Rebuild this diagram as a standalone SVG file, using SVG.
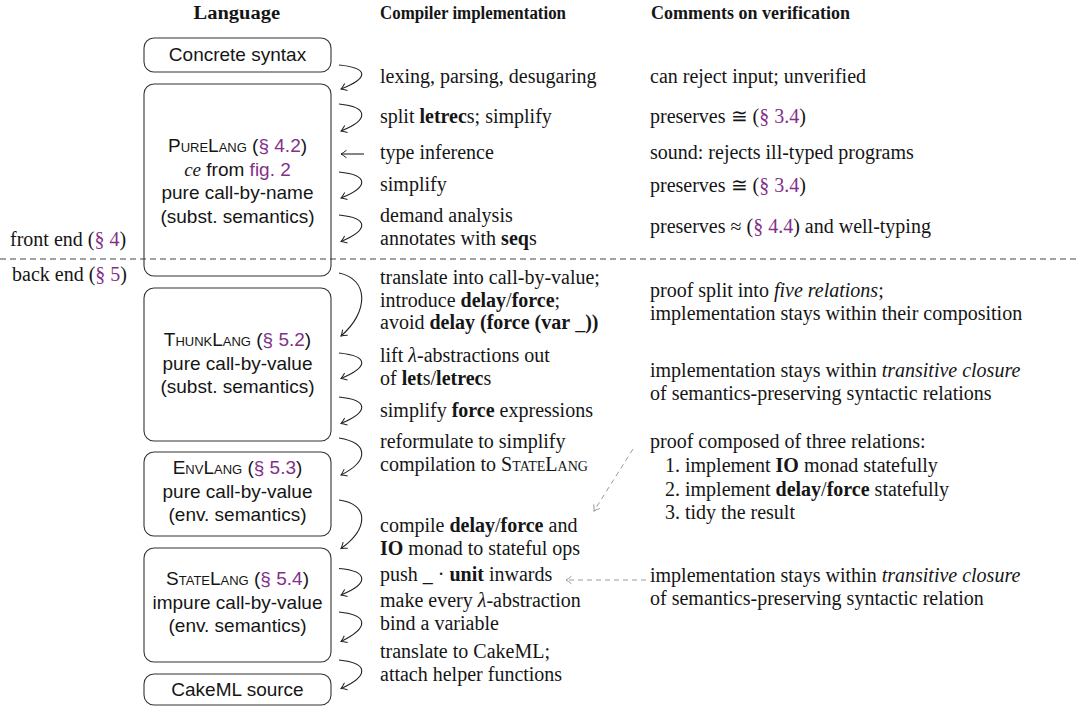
<svg xmlns="http://www.w3.org/2000/svg" width="1078" height="710" viewBox="0 0 1078 710">
<style>
.s{font-family:"Liberation Serif","Times New Roman",serif;font-size:20px;fill:#151515}
.h{font-family:"Liberation Serif","Times New Roman",serif;font-size:18px;font-weight:bold;fill:#151515}
.b{font-family:"Liberation Sans",Arial,sans-serif;font-size:19px;fill:#151515;text-anchor:middle}
.box{fill:none;stroke:#333;stroke-width:1.1}
.sc{font-variant:small-caps}
.bf{font-weight:bold}
.it{font-style:italic}
.ln{fill:#84308a}
.arr{fill:none;stroke:#222;stroke-width:1.1;marker-end:url(#ah)}
.garr{fill:none;stroke:#9a9a9a;stroke-width:1;stroke-dasharray:5 4;marker-end:url(#gah)}
.sep{stroke:#444;stroke-width:1;stroke-dasharray:6 4}
</style>
<defs>
<marker id="ah" viewBox="-7 -5 9 10" refX="0" refY="0" markerWidth="9" markerHeight="10" markerUnits="userSpaceOnUse" orient="auto">
<path d="M -5.5 -3.8 Q -2 -1 0 0 Q -2 1 -5.5 3.8" fill="none" stroke="#222" stroke-width="1"/>
</marker>
<marker id="gah" viewBox="-7 -5 9 10" refX="0" refY="0" markerWidth="9" markerHeight="10" markerUnits="userSpaceOnUse" orient="auto">
<path d="M -5.5 -3.8 Q -2 -1 0 0 Q -2 1 -5.5 3.8" fill="none" stroke="#9a9a9a" stroke-width="1"/>
</marker>
</defs>
<rect width="1078" height="710" fill="#fff"/>

<g id="headers">
<text class="h" x="193.5" y="19" textLength="86.5" lengthAdjust="spacingAndGlyphs">Language</text>
<text class="h" x="380" y="19" textLength="186" lengthAdjust="spacingAndGlyphs">Compiler implementation</text>
<text class="h" x="651" y="19" textLength="199" lengthAdjust="spacingAndGlyphs">Comments on verification</text>
</g>

<g id="separator">
<line class="sep" x1="0" y1="259" x2="1078" y2="259"/>
<text class="s" x="10" y="246">front end (<tspan class="ln">§ 4</tspan>)</text>
<text class="s" x="12" y="281">back end (<tspan class="ln">§ 5</tspan>)</text>
</g>

<g id="concrete">
<rect class="box" x="144" y="38" width="187" height="34" rx="10"/>
<text class="b" x="237.5" y="61">Concrete syntax</text>
</g>
<g id="purelang">
<rect class="box" x="144" y="84" width="187" height="192" rx="10"/>
<text class="b" x="237.5" y="152"><tspan class="sc">PureLang</tspan> (<tspan class="ln">§ 4.2</tspan>)</text>
<text class="b" x="237.5" y="175.5"><tspan class="it" font-family="Liberation Serif">ce</tspan> from <tspan class="ln">fig. 2</tspan></text>
<text class="b" x="237.5" y="199">pure call-by-name</text>
<text class="b" x="237.5" y="222.5">(subst. semantics)</text>
</g>
<g id="thunklang">
<rect class="box" x="144" y="288" width="187" height="153" rx="10"/>
<text class="b" x="237.5" y="346"><tspan class="sc">ThunkLang</tspan> (<tspan class="ln">§ 5.2</tspan>)</text>
<text class="b" x="237.5" y="369.5">pure call-by-value</text>
<text class="b" x="237.5" y="393">(subst. semantics)</text>
</g>
<g id="envlang">
<rect class="box" x="144" y="452" width="187" height="84" rx="10"/>
<text class="b" x="237.5" y="474"><tspan class="sc">EnvLang</tspan> (<tspan class="ln">§ 5.3</tspan>)</text>
<text class="b" x="237.5" y="497.5">pure call-by-value</text>
<text class="b" x="237.5" y="521">(env. semantics)</text>
</g>
<g id="statelang">
<rect class="box" x="144" y="548" width="187" height="114" rx="10"/>
<text class="b" x="237.5" y="585"><tspan class="sc">StateLang</tspan> (<tspan class="ln">§ 5.4</tspan>)</text>
<text class="b" x="237.5" y="608.5">impure call-by-value</text>
<text class="b" x="237.5" y="632">(env. semantics)</text>
</g>
<g id="cakeml">
<rect class="box" x="144" y="674" width="187" height="31" rx="10"/>
<text class="b" x="237.5" y="696">CakeML source</text>
</g>

<g id="connectors">
<path class="arr" d="M 339 65 C 369 68, 369 78, 341 89"/>
<path class="arr" d="M 339 104 C 369 107, 369 120, 341 131"/>
<line class="arr" x1="364" y1="154" x2="341" y2="154"/>
<path class="arr" d="M 339 172 C 369 175, 369 187, 341 198"/>
<path class="arr" d="M 339 215 C 369 218, 369 230, 341 241.5"/>
<path class="arr" d="M 339 273 C 369 279, 369 312, 341 336"/>
<path class="arr" d="M 339 353 C 369 356, 369 367, 341 378.5"/>
<path class="arr" d="M 339 397 C 369 400, 369 412, 341 423.5"/>
<path class="arr" d="M 339 438 C 369 443, 369 461, 341 475"/>
<path class="arr" d="M 339 500 C 369 504, 369 528, 341 548.5"/>
<path class="arr" d="M 339 568.5 C 369 571, 369 584, 341 595"/>
<path class="arr" d="M 339 612 C 369 615, 369 628, 341 641.5"/>
<path class="arr" d="M 339 660 C 369 663, 369 676, 341 688.5"/>
<path class="garr" d="M 633 449 L 594 511"/>
<path class="garr" d="M 646 580 L 566 580"/>
</g>

<g id="implementation">
<text class="s" x="380" y="83">lexing, parsing, desugaring</text>
<text class="s" x="380" y="123">split <tspan class="bf">letrec</tspan>s; simplify</text>
<text class="s" x="380" y="159">type inference</text>
<text class="s" x="380" y="191">simplify</text>
<text class="s" x="380" y="222">demand analysis</text>
<text class="s" x="380" y="245">annotates with <tspan class="bf">seq</tspan>s</text>
<text class="s" x="380" y="284">translate into call-by-value;</text>
<text class="s" x="380" y="306.5">introduce <tspan class="bf">delay</tspan>/<tspan class="bf">force</tspan>;</text>
<text class="s" x="380" y="329">avoid <tspan class="bf">delay (force (var</tspan> _<tspan class="bf">))</tspan></text>
<text class="s" x="380" y="362">lift <tspan class="it">λ</tspan>-abstractions out</text>
<text class="s" x="380" y="385">of <tspan class="bf">let</tspan>s/<tspan class="bf">letrec</tspan>s</text>
<text class="s" x="380" y="417">simplify <tspan class="bf">force</tspan> expressions</text>
<text class="s" x="380" y="448">reformulate to simplify</text>
<text class="s" x="380" y="471">compilation to <tspan class="sc">StateLang</tspan></text>
<text class="s" x="380" y="532">compile <tspan class="bf">delay</tspan>/<tspan class="bf">force</tspan> and</text>
<text class="s" x="380" y="555"><tspan class="bf">IO</tspan> monad to stateful ops</text>
<text class="s" x="380" y="581">push _ · <tspan class="bf">unit</tspan> inwards</text>
<text class="s" x="380" y="607">make every <tspan class="it">λ</tspan>-abstraction</text>
<text class="s" x="380" y="629.5">bind a variable</text>
<text class="s" x="380" y="658">translate to CakeML;</text>
<text class="s" x="380" y="681">attach helper functions</text>
</g>

<g id="verification">
<text class="s" x="650" y="83">can reject input; unverified</text>
<text class="s" x="650" y="123">preserves ≅ (<tspan class="ln">§ 3.4</tspan>)</text>
<text class="s" x="650" y="159">sound: rejects ill-typed programs</text>
<text class="s" x="650" y="192">preserves ≅ (<tspan class="ln">§ 3.4</tspan>)</text>
<text class="s" x="650" y="233">preserves ≈ (<tspan class="ln">§ 4.4</tspan>) and well-typing</text>
<text class="s" x="650" y="297">proof split into <tspan class="it">five relations</tspan>;</text>
<text class="s" x="650" y="320">implementation stays within their composition</text>
<text class="s" x="650" y="377">implementation stays within <tspan class="it">transitive closure</tspan></text>
<text class="s" x="650" y="400">of semantics-preserving syntactic relations</text>
<text class="s" x="650" y="448">proof composed of three relations:</text>
<text class="s" x="665" y="472">1. implement <tspan class="bf">IO</tspan> monad statefully</text>
<text class="s" x="665" y="495.5">2. implement <tspan class="bf">delay</tspan>/<tspan class="bf">force</tspan> statefully</text>
<text class="s" x="665" y="519">3. tidy the result</text>
<text class="s" x="650" y="582">implementation stays within <tspan class="it">transitive closure</tspan></text>
<text class="s" x="650" y="605">of semantics-preserving syntactic relation</text>
</g>
</svg>
